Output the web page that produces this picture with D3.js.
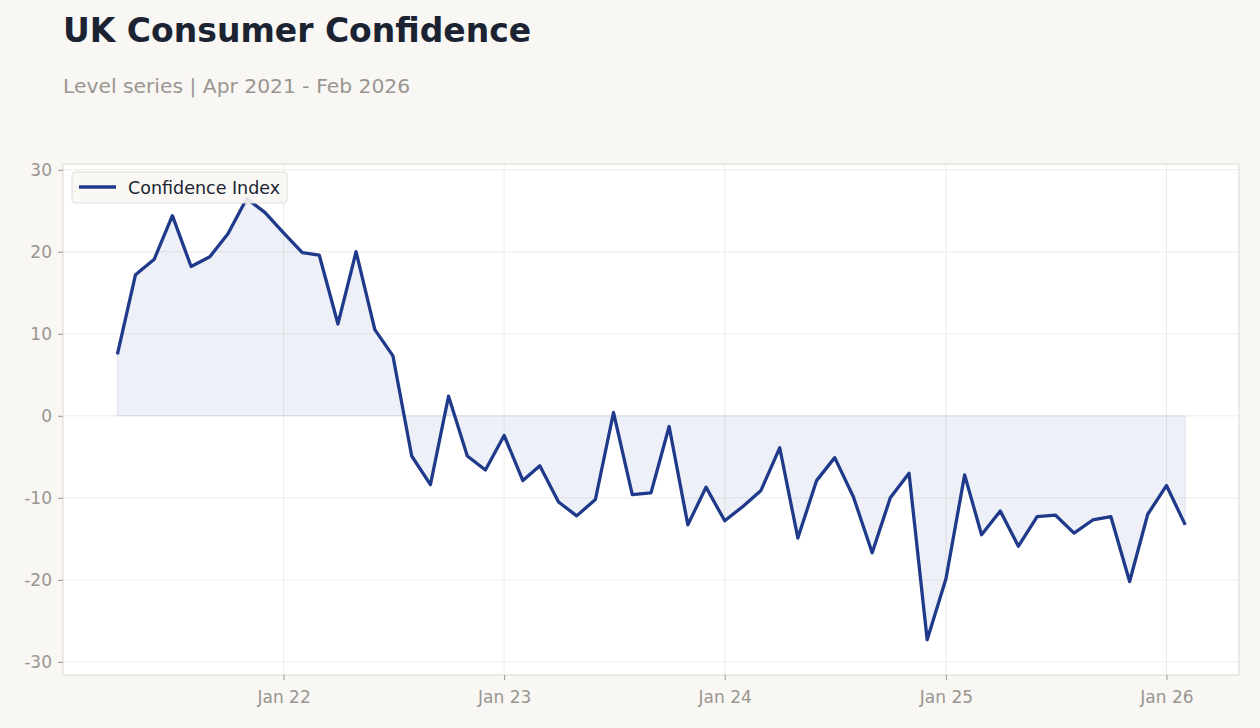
<!doctype html>
<html lang="en">
<head>
<meta charset="utf-8">
<title>UK Consumer Confidence</title>
<style>
  body { margin: 0; background: #f8f7f4; }
  svg { display: block; font-family: "DejaVu Sans", sans-serif; }
</style>
</head>
<body>
<svg id="chart" width="1260" height="728"></svg>
<script src="https://cdn.jsdelivr.net/npm/d3@7"></script>
<script>
// monthly, Apr 2021 .. Feb 2026
var startMonth = "2021-04";
var confidence = [
  7.5, 17.2, 19.1, 24.4, 18.2, 19.4, 22.2, 26.5, 24.8,
  22.3, 19.9, 19.6, 11.2, 20.0, 10.5, 7.3, -4.9, -8.4, 2.4, -4.9, -6.6,
  -2.4, -7.9, -6.1, -10.5, -12.2, -10.2, 0.4, -9.6, -9.4, -1.3, -13.3, -8.7,
  -12.8, -11.0, -9.1, -3.9, -14.9, -7.9, -5.1, -9.9, -16.7, -10.0, -7.0, -27.3,
  -19.9, -7.2, -14.5, -11.6, -15.9, -12.3, -12.1, -14.3, -12.7, -12.3, -20.2, -12.0,
  -8.5, -13.3
];
var yTicks = [-30, -20, -10, 0, 10, 20, 30];
var xTickDates = ["2022-01", "2023-01", "2024-01", "2025-01", "2026-01"];
var seriesName = "Confidence Index";

var parseMonth = d3.timeParse("%Y-%m");
var start = parseMonth(startMonth);
var data = confidence.map(function(v, i) {
  return { date: d3.timeMonth.offset(start, i), value: v };
});

var svg = d3.select("#chart");
var pLeft = 63, pRight = 1239, pTop = 164, pBottom = 675;
var lineColor = "#1f3a8a";

var x = d3.scaleTime()
  .domain([d3.timeMonth.offset(start, -3), d3.timeMonth.offset(start, 61.8)])
  .range([pLeft, pRight]);
var y = d3.scaleLinear().domain([-31.6, 30.7]).range([pBottom, pTop]);

svg.append("text").attr("x", 63).attr("y", 42)
  .attr("font-size", 33).attr("font-weight", "bold").attr("fill", "#1b2333")
  .text("UK Consumer Confidence");
svg.append("text").attr("x", 63).attr("y", 93)
  .attr("font-size", 20.3).attr("fill", "#9a9590")
  .text("Level series | Apr 2021 - Feb 2026");

svg.append("rect").attr("x", pLeft).attr("y", pTop)
  .attr("width", pRight - pLeft).attr("height", pBottom - pTop)
  .attr("fill", "#ffffff");

// grid
var xt = xTickDates.map(parseMonth);
svg.append("g").selectAll("line").data(yTicks).enter().append("line")
  .attr("x1", pLeft).attr("x2", pRight)
  .attr("y1", function(d) { return y(d); }).attr("y2", function(d) { return y(d); })
  .attr("stroke", "#ebe9e6").attr("stroke-width", 0.8);
svg.append("g").selectAll("line").data(xt).enter().append("line")
  .attr("y1", pTop).attr("y2", pBottom)
  .attr("x1", function(d) { return x(d); }).attr("x2", function(d) { return x(d); })
  .attr("stroke", "#ebe9e6").attr("stroke-width", 0.8);

// shaded area between line and zero
var area = d3.area()
  .x(function(d) { return x(d.date); })
  .y0(y(0))
  .y1(function(d) { return y(d.value); });
svg.append("path").datum(data).attr("d", area)
  .attr("fill", lineColor).attr("fill-opacity", 0.08)
  .attr("stroke", lineColor).attr("stroke-opacity", 0.1).attr("stroke-width", 1);

var line = d3.line()
  .x(function(d) { return x(d.date); })
  .y(function(d) { return y(d.value); });
svg.append("path").datum(data).attr("d", line)
  .attr("fill", "none").attr("stroke", lineColor)
  .attr("stroke-width", 3.3).attr("stroke-linejoin", "round");

// frame
svg.append("rect").attr("x", pLeft).attr("y", pTop)
  .attr("width", pRight - pLeft).attr("height", pBottom - pTop)
  .attr("fill", "none").attr("stroke", "#ddd8d1").attr("stroke-width", 1);

// axes
var yAxis = svg.append("g").attr("transform", "translate(" + pLeft + ",0)")
  .call(d3.axisLeft(y).tickValues(yTicks).tickSize(5).tickPadding(6)
    .tickFormat(function(d) { return String(d); }));
var xAxis = svg.append("g").attr("transform", "translate(0," + pBottom + ")")
  .call(d3.axisBottom(x).tickValues(xt).tickSize(5).tickPadding(11)
    .tickFormat(d3.timeFormat("Jan %y")));
[yAxis, xAxis].forEach(function(g) {
  g.select(".domain").remove();
  g.selectAll(".tick line").attr("stroke", "#9a9590");
  g.selectAll(".tick text").attr("fill", "#9a9590")
    .attr("font-size", 17).attr("font-family", "DejaVu Sans, sans-serif");
});

// legend
var lg = svg.append("g").attr("transform", "translate(72,172)");
lg.append("rect").attr("width", 215).attr("height", 31).attr("rx", 3)
  .attr("fill", "#f8f7f4").attr("fill-opacity", 0.9)
  .attr("stroke", "#e2ddd6");
lg.append("line").attr("x1", 7).attr("x2", 44).attr("y1", 15).attr("y2", 15)
  .attr("stroke", lineColor).attr("stroke-width", 3.3);
lg.append("text").attr("x", 56).attr("y", 21.5)
  .attr("font-size", 17.5).attr("fill", "#1b2333").text(seriesName);
</script>
</body>
</html>
